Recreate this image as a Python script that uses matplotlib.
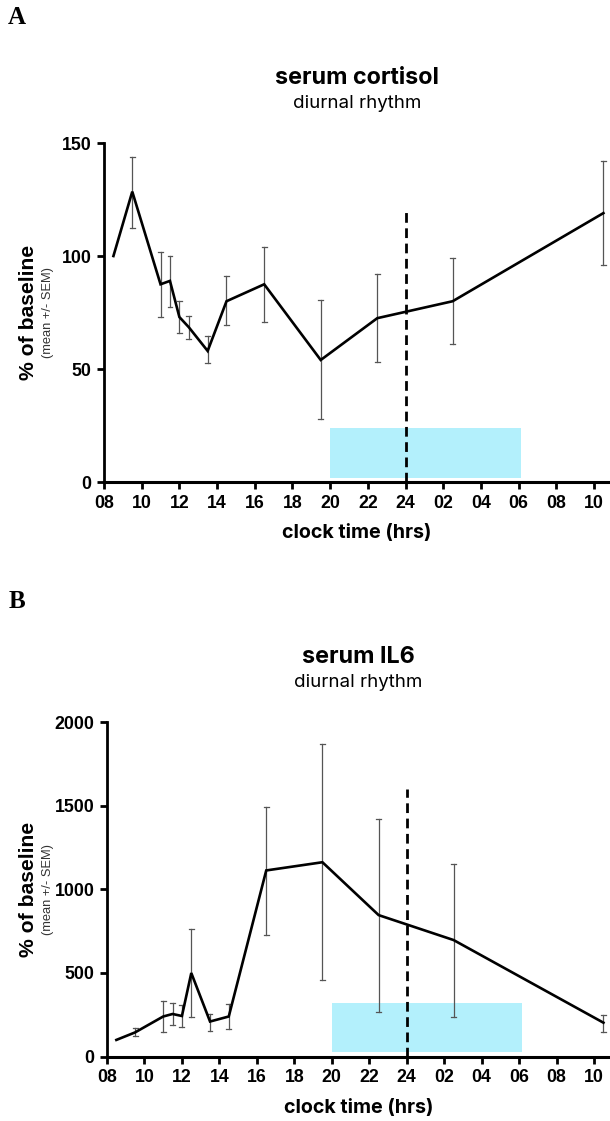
import matplotlib
matplotlib.use("Agg")
import matplotlib.pyplot as plt

# ---- data ----
tick_hours = [8, 10, 12, 14, 16, 18, 20, 22, 24, 26, 28, 30, 32, 34]
tick_labels = ["08", "10", "12", "14", "16", "18", "20", "22", "24", "02", "04", "06", "08", "10"]

cort_t = [8.5, 9.5, 11.0, 11.5, 12.0, 12.5, 13.5, 14.5, 16.5, 19.5, 22.5, 26.5, 34.5]
cort_mean = [100, 128.5, 87.5, 89, 73, 68.5, 58, 80, 87.5, 54, 72.5, 80, 119]
cort_hi = [None, 144, 102, 100, 80, 73.5, 64.5, 91, 104, 80.5, 92, 99, 142]
cort_lo = [None, 112.5, 73, 77.5, 66, 63.5, 52.5, 69.5, 71, 28, 53, 61, 96]

il6_t = [8.5, 9.5, 11.0, 11.5, 12.0, 12.5, 13.5, 14.5, 16.5, 19.5, 22.5, 26.5, 34.5]
il6_mean = [100, 145, 240, 255, 243, 500, 210, 240, 1113, 1162, 846, 697, 203]
il6_hi = [None, 170, 330, 319, 309, 764, 255, 315, 1493, 1871, 1423, 1149, 249]
il6_lo = [None, 125, 146, 189, 179, 239, 155, 165, 728, 458, 269, 235, 149]

night_start, night_end = 20.0, 30.15
cort_box = (2, 24)
il6_box = (30, 320)
midnight = 24
cort_dash_top = 120
il6_dash_top = 1600

plt.rcParams['font.family'] = ['Liberation Sans', 'DejaVu Sans']
WIDE = ['Inter', 'Liberation Sans', 'DejaVu Sans']

fig = plt.figure(figsize=(6.10, 11.21), dpi=100)

def panel(rect, t, m, hi, lo, box, dash_top, ylim, yticks, title, letter, letter_y):
    ax = fig.add_axes(rect)
    ax.add_patch(plt.Rectangle((night_start, box[0]), night_end - night_start, box[1] - box[0],
                               facecolor='#b3f0fc', edgecolor='none', zorder=1))
    ax.plot([midnight, midnight], [0, dash_top], color='black', lw=2.0,
            linestyle=(0, (3.5, 2.0)), zorder=3)
    for x, h, l in zip(t, hi, lo):
        if h is None:
            continue
        ax.plot([x, x], [l, h], color='#555555', lw=0.9, zorder=2)
        for yy in (l, h):
            ax.plot([x - 0.13, x + 0.13], [yy, yy], color='#555555', lw=0.9, zorder=2)
    ax.plot(t, m, color='black', lw=1.9, zorder=4, solid_joinstyle='miter')
    ax.set_xlim(8, 34.85)
    ax.set_ylim(*ylim)
    ax.set_xticks(tick_hours)
    ax.set_xticklabels(tick_labels)
    ax.set_yticks(yticks)
    for s in ('top', 'right'):
        ax.spines[s].set_visible(False)
    ax.spines['left'].set_linewidth(2.0)
    ax.spines['bottom'].set_linewidth(2.2)
    ax.tick_params(axis='both', width=2.0, length=5, labelsize=12.8, pad=4)
    for lab in ax.get_xticklabels() + ax.get_yticklabels():
        lab.set_fontweight('bold')
    ax.set_xlabel('clock time (hrs)', fontsize=14.2, fontweight='bold', labelpad=9,
                  family=WIDE)
    # titles
    cx = rect[0] + rect[2] / 2
    top = rect[1] + rect[3]
    fig.text(cx, top + 0.058, title, ha='center', va='center', fontsize=16.8,
             fontweight='bold', family=WIDE)
    fig.text(cx, top + 0.035, 'diurnal rhythm', ha='center', va='center', fontsize=13.5,
             family=WIDE)
    # y labels
    cy = rect[1] + rect[3] / 2
    fig.text(0.046, cy, '% of baseline', rotation=90, ha='center', va='center',
             fontsize=15.2, fontweight='bold')
    fig.text(0.078, cy, '(mean +/- SEM)', rotation=90, ha='center', va='center',
             fontsize=9.3, color='#333333')
    fig.text(0.028, letter_y, letter, ha='center', va='center', fontsize=18,
             fontweight='bold', family=['Liberation Serif', 'DejaVu Serif'])
    return ax

panel([0.1705, 0.570, 0.8295, 0.3024], cort_t, cort_mean, cort_hi, cort_lo, cort_box,
      cort_dash_top, (0, 150), [0, 50, 100, 150], 'serum cortisol', 'A', 1 - 18 / 1121)
panel([0.1754, 0.0574, 0.8246, 0.2985], il6_t, il6_mean, il6_hi, il6_lo, il6_box,
      il6_dash_top, (0, 2000), [0, 500, 1000, 1500, 2000], 'serum IL6', 'B', 1 - 602 / 1121)

fig.savefig('out.png', dpi=100)
